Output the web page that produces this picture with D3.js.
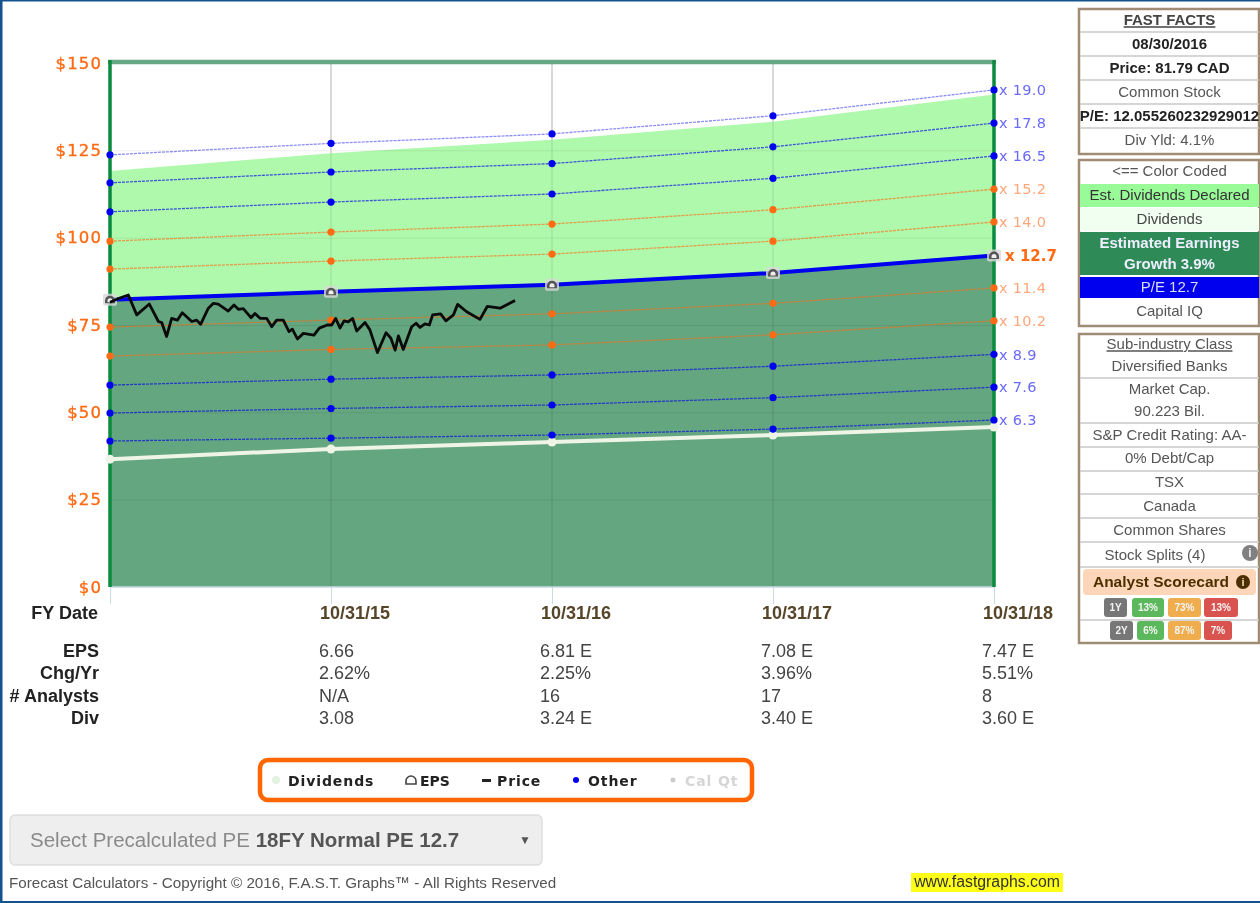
<!DOCTYPE html>
<html>
<head>
<meta charset="utf-8">
<title>F.A.S.T. Graphs forecast</title>
<script src="https://cdn.jsdelivr.net/npm/d3@7"></script>
<style>
  html, body { margin: 0; padding: 0; background: #fff; }
  svg { display: block; filter: blur(0.6px); }
  text { font-family: "Liberation Sans", Arial, sans-serif; }
  .axis path { display: none; }
</style>
</head>
<body>
<svg id="chart" width="1260" height="903"></svg>
<script>
// fiscal years, plot runs from FY14 to FY18
const fiscalYears = [2014, 2015, 2016, 2017, 2018];
const fyLabels = ['', '10/31/15', '10/31/16', '10/31/17', '10/31/18'];
const priceTicks = [0, 25, 50, 75, 100, 125, 150];

// one value per fiscal year
const multiples = ['19.0', '17.8', '16.5', '15.2', '14.0', '11.4', '10.2', '8.9', '7.6', '6.3'];
const multipleLines = [
  [123.7, 127.0, 129.7, 134.9, 142.3],
  [115.7, 118.8, 121.2, 126.0, 132.8],
  [107.4, 110.2, 112.5, 117.0, 123.4],
  [99.0, 101.6, 103.9, 108.0, 113.9],
  [91.0, 93.3, 95.3, 99.0, 104.5],
  [74.4, 76.4, 78.2, 81.2, 85.6],
  [66.1, 68.0, 69.3, 72.2, 76.2],
  [57.8, 59.5, 60.7, 63.2, 66.6],
  [49.8, 51.1, 52.1, 54.2, 57.2],
  [41.8, 42.6, 43.5, 45.2, 47.8]
];
const lineColors = ['blue', 'blue', 'blue', 'orange', 'orange', 'orange', 'orange', 'blue', 'blue', 'blue'];
const epsLine = [82.2, 84.5, 86.5, 89.9, 94.9];
const dividendLine = [36.6, 39.5, 41.5, 43.5, 45.8];
const greenTop = [119.1, 124.2, 128.0, 133.2, 141.0];

// price: years since FY14, dollars
const priceYears = [0, .038, .083, .121, .178, .219, .234, .256, .279, .305, .327, .370, .392, .410, .445, .468, .490,
  .535, .561, .581, .603, .638, .656, .679, .709, .732, .754, .784, .810, .825, .848, .875, .923, .947, .983, 1.003,
  1.021, 1.041, 1.059, 1.078, 1.098, 1.116, 1.154, 1.176, 1.210, 1.249, 1.271, 1.290, 1.305, 1.327, 1.365, 1.385,
  1.403, 1.425, 1.445, 1.460, 1.496, 1.520, 1.554, 1.573, 1.614, 1.674, 1.707, 1.765, 1.833];
const priceValues = [81.5, 82.6, 83.6, 77.9, 81.0, 76.0, 75.7, 71.7, 76.9, 76.4, 78.5, 76.0, 76.4, 75.2, 79.8, 81.2, 81.0,
  79.0, 80.7, 79.5, 79.7, 77.1, 78.3, 76.9, 76.9, 74.5, 76.4, 76.4, 73.1, 73.8, 71.0, 72.6, 72.1, 74.1, 75.0, 75.0,
  76.9, 74.1, 76.2, 75.9, 76.9, 73.3, 75.7, 73.6, 67.1, 72.8, 71.2, 67.8, 71.9, 68.0, 74.5, 75.5,
  74.3, 75.3, 75.0, 77.9, 78.2, 76.2, 77.9, 80.9, 78.8, 76.6, 80.3, 79.8, 82.0];

const tableLabels = ['EPS', 'Chg/Yr', '# Analysts', 'Div'];
const tableColumns = [
  ['6.66', '2.62%', 'N/A', '3.08'],
  ['6.81 E', '2.25%', '16', '3.24 E'],
  ['7.08 E', '3.96%', '17', '3.40 E'],
  ['7.47 E', '5.51%', '8', '3.60 E']
];

const factsRows = ['FAST FACTS', '08/30/2016', 'Price: 81.79 CAD', 'Common Stock', 'P/E: 12.055260232929012', 'Div Yld: 4.1%'];
const classRows = [['Sub-industry Class', 'Diversified Banks'], ['Market Cap.', '90.223 Bil.'], ['S&P Credit Rating: AA-'],
  ['0% Debt/Cap'], ['TSX'], ['Canada'], ['Common Shares'], ['Stock Splits (4)']];

const svg = d3.select('#chart');
const plot = { left: 110, right: 994, top: 63, bottom: 587 };

const x = d3.scaleLinear().domain([2014, 2018]).range([plot.left, plot.right]);
const y = d3.scaleLinear().domain([0, 150]).range([plot.bottom, plot.top]);
const ORANGE = '#ff6a13', BLUE = '#0000f0';

// page edge
svg.append('rect').attr('x', 0).attr('y', 0).attr('width', 2.5).attr('height', 903).attr('fill', '#14528f');
svg.append('rect').attr('x', 0).attr('y', 0).attr('width', 1260).attr('height', 1.5).attr('fill', '#14528f');
svg.append('rect').attr('x', 0).attr('y', 901).attr('width', 1260).attr('height', 2).attr('fill', '#14528f');

// filled areas
const areaOf = d3.area().x((d, i) => x(fiscalYears[i])).y0(y(0)).y1(d => y(d));
svg.append('path').datum(greenTop).attr('d', areaOf).attr('fill', '#aff9ac');
svg.append('path').datum(epsLine).attr('d', areaOf).attr('fill', '#64a67f');

// grid and tick marks
svg.append('g')
  .attr('class', 'axis')
  .attr('transform', `translate(${plot.left},0)`)
  .call(d3.axisLeft(y).tickValues(priceTicks).tickSize(-(plot.right - plot.left)).tickFormat(d => '$' + d))
  .call(g => g.selectAll('line').attr('stroke', '#000').attr('stroke-opacity', 0.07))
  .call(g => g.selectAll('text')
    .attr('x', -8)
    .attr('fill', ORANGE)
    .attr('stroke', ORANGE)
    .attr('stroke-width', 0.35)
    .style('font-family', '"DejaVu Sans", sans-serif')
    .style('font-size', '16.5px')
    .style('letter-spacing', '1.1px'));

svg.append('g')
  .attr('class', 'axis')
  .attr('transform', `translate(0,${plot.bottom})`)
  .call(d3.axisBottom(x).tickValues(fiscalYears).tickSize(17).tickFormat(''))
  .call(g => g.selectAll('line').attr('stroke', '#c9dbe6'));

// year lines are plain grey over the white part, faint over the fills
svg.append('g')
  .selectAll('line')
  .data(fiscalYears.slice(1, 4))
  .join('line')
  .attr('x1', d => x(d)).attr('x2', d => x(d))
  .attr('y1', plot.top).attr('y2', plot.bottom)
  .attr('stroke', '#000').attr('stroke-opacity', 0.08).attr('stroke-width', 1.5);
svg.append('g')
  .selectAll('line')
  .data(fiscalYears.slice(1, 4))
  .join('line')
  .attr('x1', d => x(d)).attr('x2', d => x(d))
  .attr('y1', plot.top).attr('y2', (d, i) => y(greenTop[i + 1]))
  .attr('stroke', '#cfcfcf').attr('stroke-width', 1.5);

svg.append('line').attr('x1', plot.left).attr('x2', plot.right).attr('y1', plot.bottom).attr('y2', plot.bottom)
  .attr('stroke', '#c9dbe6').attr('stroke-width', 1.5);

// frame
svg.append('line').attr('x1', plot.left - 2).attr('x2', plot.right + 2).attr('y1', plot.top - 1).attr('y2', plot.top - 1)
  .attr('stroke', '#66a883').attr('stroke-width', 4.5);
[plot.left, plot.right].forEach(px => {
  svg.append('line').attr('x1', px).attr('x2', px).attr('y1', plot.top - 3).attr('y2', plot.bottom)
    .attr('stroke', '#0b8a3e').attr('stroke-width', 3.5);
});

const lineOf = d3.line().x((d, i) => x(fiscalYears[i])).y(d => y(d));

// dividends
svg.append('path').datum(dividendLine).attr('d', lineOf).attr('fill', 'none')
  .attr('stroke', '#eef5e6').attr('stroke-width', 4);
svg.append('g').selectAll('circle').data(dividendLine).join('circle')
  .attr('cx', (d, i) => x(fiscalYears[i])).attr('cy', d => y(d)).attr('r', 4.5).attr('fill', '#eef5e6');

// multiple lines with their end labels
multipleLines.forEach((vals, k) => {
  const col = lineColors[k] === 'blue' ? BLUE : ORANGE;
  svg.append('path').datum(vals).attr('d', lineOf).attr('fill', 'none')
    .attr('stroke', col).attr('stroke-width', 1.3).attr('stroke-dasharray', '3 1').attr('stroke-opacity', k === 0 ? 0.45 : 0.65);
  svg.append('g').selectAll('circle').data(vals).join('circle')
    .attr('cx', (d, i) => x(fiscalYears[i])).attr('cy', d => y(d)).attr('r', 3.6).attr('fill', col);
  svg.append('text')
    .attr('x', plot.right + 5)
    .attr('y', y(vals[4]))
    .attr('dy', '0.36em')
    .attr('fill', lineColors[k] === 'blue' ? '#6a6afa' : '#ffa77c')
    .style('font-family', '"DejaVu Sans", sans-serif')
    .style('font-size', '14.5px')
    .style('letter-spacing', '0.3px')
    .text('x ' + multiples[k]);
});

// eps line
svg.append('path').datum(epsLine).attr('d', lineOf).attr('fill', 'none').attr('stroke', BLUE).attr('stroke-width', 4);
const epsMark = svg.append('g').selectAll('g').data(epsLine).join('g')
  .attr('transform', (d, i) => `translate(${x(fiscalYears[i])},${y(d)})`);
epsMark.append('rect').attr('x', -7).attr('y', -6).attr('width', 14).attr('height', 12).attr('rx', 2)
  .attr('fill', '#d8d8d8').attr('fill-opacity', 0.8);
epsMark.append('path').attr('d', 'M-5,3.5 L-5,1 A5,5 0 0 1 5,1 L5,3.5 Z').attr('fill', '#555');
epsMark.append('path').attr('d', 'M-2.5,2.5 L-2.5,1 A2.5,2.5 0 0 1 2.5,1 L2.5,2.5 Z').attr('fill', '#eee');
svg.append('text').attr('x', plot.right + 11).attr('y', y(epsLine[4])).attr('dy', '0.36em')
  .attr('fill', ORANGE)
  .style('font-family', '"DejaVu Sans", sans-serif').style('font-size', '15px').style('font-weight', 'bold')
  .text('x 12.7');

// price
svg.append('path')
  .datum(priceValues)
  .attr('d', d3.line().x((d, i) => x(2014 + priceYears[i])).y(d => y(d)))
  .attr('fill', 'none').attr('stroke', '#0a0a0a').attr('stroke-width', 2.8).attr('stroke-linejoin', 'round');

// table under the chart
svg.append('text').attr('x', 98).attr('y', 619).attr('text-anchor', 'end')
  .style('font-size', '18px').style('font-weight', 'bold').attr('fill', '#222').text('FY Date');
svg.append('g').selectAll('text').data(fyLabels.slice(1)).join('text')
  .attr('x', (d, i) => x(fiscalYears[i + 1]) + 24)
  .attr('y', 619)
  .attr('text-anchor', 'middle')
  .attr('fill', '#57452a')
  .style('font-size', '18px').style('font-weight', 'bold')
  .text(d => d);

const rowY = d3.scalePoint().domain(tableLabels).range([657, 724]);
svg.append('g').selectAll('text').data(tableLabels).join('text')
  .attr('x', 99).attr('y', d => rowY(d)).attr('text-anchor', 'end')
  .attr('fill', '#222')
  .style('font-size', '18px').style('font-weight', 'bold')
  .text(d => d);
tableColumns.forEach((col, c) => {
  svg.append('g').selectAll('text').data(col).join('text')
    .attr('x', x(fiscalYears[c + 1]) - 12)
    .attr('y', (d, i) => rowY(tableLabels[i]))
    .attr('fill', '#444')
    .style('font-size', '18px')
    .text(d => d);
});

// legend box
svg.append('rect').attr('x', 260).attr('y', 760).attr('width', 492).attr('height', 40).attr('rx', 8)
  .attr('fill', '#fff').attr('stroke', '#ff6600').attr('stroke-width', 4.5);
const legendText = (tx, label, col) => svg.append('text').attr('x', tx).attr('y', 786)
  .attr('fill', col || '#222')
  .style('font-family', '"DejaVu Sans", sans-serif').style('font-size', '14px').style('font-weight', 'bold')
  .style('letter-spacing', '0.9px').text(label);
svg.append('circle').attr('cx', 276).attr('cy', 780).attr('r', 4).attr('fill', '#e3f2e1');
legendText(288, 'Dividends');
svg.append('path').attr('d', 'M406,784 L406,781 A5,5 0 0 1 416,781 L416,784 Z').attr('fill', '#fff').attr('stroke', '#444').attr('stroke-width', 1.6);
legendText(420, 'EPS').style('letter-spacing', '0px');
svg.append('rect').attr('x', 482).attr('y', 779).attr('width', 9).attr('height', 3).attr('fill', '#222');
legendText(497, 'Price');
svg.append('circle').attr('cx', 576).attr('cy', 780).attr('r', 3).attr('fill', BLUE);
legendText(588, 'Other');
svg.append('circle').attr('cx', 673).attr('cy', 780).attr('r', 2.5).attr('fill', '#ccc');
legendText(685, 'Cal Qt', '#d5d5d5');

// select box
svg.append('rect').attr('x', 10).attr('y', 815).attr('width', 532).attr('height', 50).attr('rx', 5)
  .attr('fill', '#eeeeee').attr('stroke', '#dedede').attr('stroke-width', 1.5);
const selectLabel = svg.append('text').attr('x', 30).attr('y', 847).style('font-size', '20.5px').attr('fill', '#8a8a8a');
selectLabel.append('tspan').text('Select Precalculated PE ');
selectLabel.append('tspan').attr('fill', '#555').style('font-weight', 'bold').text('18FY Normal PE 12.7');
svg.append('text').attr('x', 525).attr('y', 844).attr('text-anchor', 'middle').attr('fill', '#555')
  .style('font-size', '12px').text('▼');

// footer
svg.append('text').attr('x', 9).attr('y', 888).attr('fill', '#555').style('font-size', '15.2px')
  .text('Forecast Calculators - Copyright © 2016, F.A.S.T. Graphs™ - All Rights Reserved');
svg.append('rect').attr('x', 911).attr('y', 873).attr('width', 152).attr('height', 19).attr('fill', '#ffff1a');
svg.append('text').attr('x', 987).attr('y', 887).attr('text-anchor', 'middle').attr('fill', '#333').style('font-size', '15.8px')
  .text('www.fastgraphs.com');

// side panels
const SIDE_L = 1080, SIDE_R = 1259;
const panel = (top, bottom) => svg.append('rect').attr('x', SIDE_L - 1).attr('y', top).attr('width', SIDE_R - SIDE_L + 1)
  .attr('height', bottom - top).attr('fill', '#fff').attr('stroke', '#a08c75').attr('stroke-width', 2.5);
const rowLine = yy => svg.append('line').attr('x1', SIDE_L).attr('x2', SIDE_R).attr('y1', yy).attr('y2', yy)
  .attr('stroke', '#c8c8c8').attr('stroke-width', 1.5);
const sideText = (label, yy, opts = {}) => svg.append('text')
  .attr('x', opts.x || (SIDE_L + SIDE_R) / 2).attr('y', yy).attr('dy', '0.35em').attr('text-anchor', 'middle')
  .attr('fill', opts.color || '#555')
  .attr('text-decoration', opts.underline ? 'underline' : null)
  .style('font-size', (opts.size || 15) + 'px')
  .style('font-weight', opts.bold ? 'bold' : null)
  .text(label);

panel(9, 154);
[32, 56, 80, 104, 128].forEach(rowLine);
factsRows.forEach((t, i) => {
  const bold = i !== 3 && i !== 5;
  sideText(t, 20 + i * 24, {
    bold,
    size: i === 4 ? 15 : 15,
    color: i === 0 ? '#444' : (bold ? '#222' : '#555'),
    underline: i === 0
  });
});

panel(160, 326);
svg.append('rect').attr('x', SIDE_L).attr('y', 184).attr('width', SIDE_R - SIDE_L).attr('height', 23).attr('fill', '#98fb98');
svg.append('rect').attr('x', SIDE_L).attr('y', 208).attr('width', SIDE_R - SIDE_L).attr('height', 23).attr('fill', '#f0fff0');
svg.append('rect').attr('x', SIDE_L).attr('y', 232).attr('width', SIDE_R - SIDE_L).attr('height', 43).attr('fill', '#2e8b57');
svg.append('rect').attr('x', SIDE_L).attr('y', 277).attr('width', SIDE_R - SIDE_L).attr('height', 21).attr('fill', '#0000ee');
sideText('<== Color Coded', 171);
sideText('Est. Dividends Declared', 195, { color: '#333' });
sideText('Dividends', 219, { color: '#444' });
sideText('Estimated Earnings', 243, { color: '#eef', bold: true });
sideText('Growth 3.9%', 264, { color: '#eef', bold: true });
sideText('P/E 12.7', 287, { color: '#dde' });
sideText('Capital IQ', 311);

panel(334, 643);
[378, 423, 447, 471, 494, 518, 542, 567, 620].forEach(rowLine);
const classY = [[344, 366], [389, 411], [435], [458], [482], [506], [530], [555]];
classRows.forEach((labels, r) => {
  labels.forEach((t, i) => sideText(t, classY[r][i], {
    underline: r === 0 && i === 0,
    x: r === 7 ? 1155 : undefined
  }));
});
svg.append('circle').attr('cx', 1250).attr('cy', 553).attr('r', 8).attr('fill', '#808080');
sideText('i', 553, { x: 1250, color: '#eee', size: 12, bold: true });

svg.append('rect').attr('x', 1083).attr('y', 569).attr('width', 173).attr('height', 26).attr('rx', 4).attr('fill', '#fdd5b8');
sideText('Analyst Scorecard', 582, { x: 1161, color: '#4a3000', bold: true, size: 15.5 });
svg.append('circle').attr('cx', 1243).attr('cy', 582).attr('r', 7).attr('fill', '#4a3000');
sideText('i', 582, { x: 1243, color: '#fdd5b8', size: 11, bold: true });

const badges = [
  { x: 1104, w: 23, y: 598, label: '1Y', fill: '#777' },
  { x: 1132, w: 32, y: 598, label: '13%', fill: '#5cb85c' },
  { x: 1168, w: 33, y: 598, label: '73%', fill: '#f0ad4e' },
  { x: 1204, w: 34, y: 598, label: '13%', fill: '#d9534f' },
  { x: 1110, w: 23, y: 621, label: '2Y', fill: '#777' },
  { x: 1137, w: 27, y: 621, label: '6%', fill: '#5cb85c' },
  { x: 1168, w: 33, y: 621, label: '87%', fill: '#f0ad4e' },
  { x: 1204, w: 28, y: 621, label: '7%', fill: '#d9534f' }
];
const badge = svg.append('g').selectAll('g').data(badges).join('g');
badge.append('rect').attr('x', d => d.x).attr('y', d => d.y).attr('width', d => d.w).attr('height', 19).attr('rx', 3).attr('fill', d => d.fill);
badge.append('text').attr('x', d => d.x + d.w / 2).attr('y', d => d.y + 9.5).attr('dy', '0.35em').attr('text-anchor', 'middle')
  .attr('fill', '#f4f4f4').style('font-size', '10px').style('font-weight', 'bold').text(d => d.label);
</script>
</body>
</html>
